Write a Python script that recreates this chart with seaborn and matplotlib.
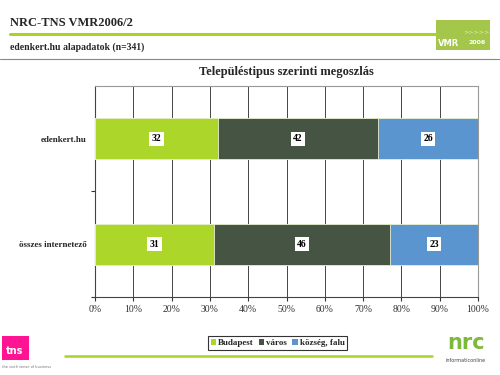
import matplotlib
matplotlib.use("Agg")
import matplotlib.pyplot as plt
import seaborn as sns
import pandas as pd
import numpy as np
from matplotlib.patches import Rectangle
from matplotlib.lines import Line2D

categories = ["edenkert.hu", "összes internetező"]
series_names = ["Budapest", "város", "község, falu"]
budapest = [32, 31]
varos = [42, 46]
kozseg = [26, 23]
colors = ["#acd72a", "#465443", "#5b95cf"]
xtick_labels = ["0%", "10%", "20%", "30%", "40%", "50%", "60%", "70%", "80%", "90%", "100%"]

sns.set_theme(style="white")
plt.rcParams['font.family'] = ['Liberation Serif', 'DejaVu Serif']

fig = plt.figure(figsize=(5, 3.75), dpi=100)
ax = fig.add_axes([0.19, 0.208, 0.766, 0.563])

vals = np.array([budapest, varos, kozseg], dtype=float)
cum = np.cumsum(vals, axis=0)

for i in range(2, -1, -1):
    df = pd.DataFrame({"cat": categories, "val": cum[i]})
    sns.barplot(data=df, x="val", y="cat", orient="h", color=colors[i],
                width=0.39, ax=ax, edgecolor="#e8f0d0", linewidth=0.6,
                saturation=1, zorder=3)

for j, cat in enumerate(categories):
    left = 0
    for i in range(3):
        v = vals[i, j]
        ax.text(left + v / 2, j, f"{int(v)}", ha="center", va="center",
                fontsize=7, fontweight="bold", color="black", zorder=5,
                bbox=dict(boxstyle="square,pad=0.25", fc="white", ec="none"))
        left += v

ax.set_xlim(0, 100)
ax.set_ylim(1.5, -0.5)
ax.set_xticks(np.arange(0, 101, 10))
ax.set_xticklabels(xtick_labels, fontsize=7, color="#333333")
ax.set_yticks([0, 1])
ax.set_yticklabels(categories, fontsize=6.5, fontweight="bold")
ax.tick_params(axis="y", length=0, pad=6)
ax.tick_params(axis="x", length=3, width=0.8, color="#333333", pad=3, direction="out", bottom=True)
ax.set_yticks([0.5, 1.5], minor=True)
ax.tick_params(axis="y", which="minor", length=3, width=0.8, color="#333333", left=True)
ax.set_xlabel("")
ax.set_ylabel("")
ax.xaxis.grid(True, color="#444444", linewidth=0.7, zorder=0)
ax.yaxis.grid(False)
ax.set_axisbelow(True)
for s in ["top", "right"]:
    ax.spines[s].set_color("#999999")
    ax.spines[s].set_linewidth(0.8)
for s in ["left", "bottom"]:
    ax.spines[s].set_color("#444444")
    ax.spines[s].set_linewidth(0.8)

ax.set_title("Településtipus szerinti megoszlás", fontsize=9, fontweight="bold", pad=8)

handles = [Rectangle((0, 0), 1, 1, fc=c, ec="none") for c in colors]
leg = fig.legend(handles, series_names, loc="center", bbox_to_anchor=(0.555, 0.085),
                 ncol=3, fontsize=6.5, frameon=True, fancybox=False, handlelength=0.6,
                 handleheight=0.6, handletextpad=0.2, columnspacing=0.6, borderpad=0.3)
leg.get_frame().set_edgecolor("black")
leg.get_frame().set_linewidth(0.8)
for t in leg.get_texts():
    t.set_fontweight("bold")

# Header
fig.text(0.02, 1 - 23 / 375, "NRC-TNS VMR2006/2", fontsize=9, fontweight="bold", va="center", ha="left")
fig.add_artist(Line2D([0.02, 0.872], [1 - 34 / 375] * 2, color="#a8d42a", linewidth=2.2))
fig.text(0.02, 1 - 47 / 375, "edenkert.hu alapadatok (n=341)", fontsize=7, fontweight="bold", va="center", ha="left")
fig.add_artist(Line2D([0.0, 1.0], [1 - 59 / 375] * 2, color="#888888", linewidth=0.8))

# Top-right logo
fig.add_artist(Rectangle((436 / 500, 1 - 50 / 375), 54 / 500, 30 / 375, fc="#a4c64a", ec="none"))
fig.text(449 / 500, 1 - 43 / 375, "VMR", fontsize=6, fontweight="bold", color="white", ha="center", va="center",
         family=["DejaVu Sans"])
fig.text(477 / 500, 1 - 43 / 375, "2006", fontsize=4.5, fontweight="bold", color="white", ha="center", va="center",
         family=["DejaVu Sans"])
fig.text(476 / 500, 1 - 32 / 375, ">>>>>", fontsize=4.5, color="#e4f0c0", ha="center", va="center",
         family=["DejaVu Sans"])

# Bottom line
fig.add_artist(Line2D([65 / 500, 432 / 500], [1 - 356 / 375] * 2, color="#a8d42a", linewidth=1.8))

# tns logo
fig.add_artist(Rectangle((2 / 500, 1 - 360 / 375), 27 / 500, 24 / 375, fc="#ff1493", ec="none"))
fig.text(15 / 500, 1 - 351 / 375, "tns", fontsize=7, fontweight="bold", color="white", ha="center", va="center",
         family=["DejaVu Sans"])
fig.text(2 / 500, 1 - 367 / 375, "the sixth sense of business", fontsize=2.6, color="#777777", ha="left", va="center",
         family=["DejaVu Sans"])

# nrc logo
fig.text(466 / 500, 1 - 343 / 375, "nrc", fontsize=15, fontweight="bold", color="#7cb83a", ha="center", va="center",
         family=["DejaVu Sans"])
fig.text(466 / 500, 1 - 361 / 375, "informaticonline", fontsize=3.5, color="#444444", ha="center", va="center",
         family=["DejaVu Sans"])

fig.savefig("out.png", dpi=100)
